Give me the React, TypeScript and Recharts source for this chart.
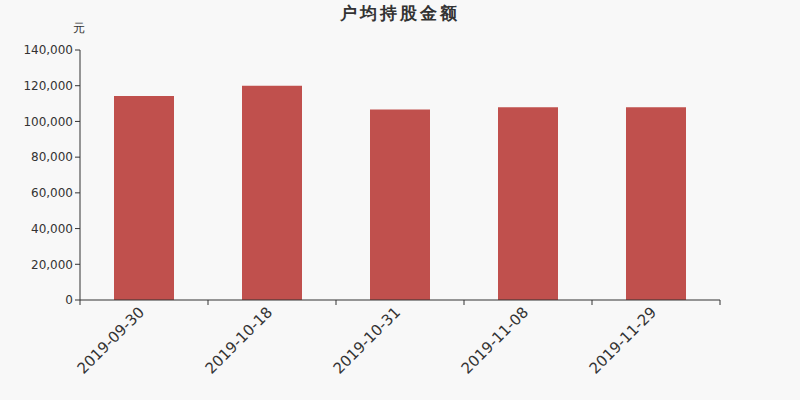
import { Bar, BarChart, XAxis, YAxis } from "recharts";

const dates = ["2019-09-30", "2019-10-18", "2019-10-31", "2019-11-08", "2019-11-29"];
const amounts = [114200, 120000, 106700, 108000, 107900];
const yTicks = [0, 20000, 40000, 60000, 80000, 100000, 120000, 140000];

const data = dates.map((date, i) => ({ date, amount: amounts[i] }));

const font = "'DejaVu Sans', sans-serif";
const axisColor = "#333";

function DateTick(props: any) {
  const { x, y, payload, index, visibleTicksCount } = props;
  const half = 64;
  const ax = x - 2;
  const ay = y + 2;
  return (
    <g>
      <line x1={x - half} y1={y - 8} x2={x - half} y2={y - 3} stroke={axisColor} />
      {index === visibleTicksCount - 1 && (
        <line x1={x + half} y1={y - 8} x2={x + half} y2={y - 3} stroke={axisColor} />
      )}
      <text
        x={ax}
        y={ay}
        textAnchor="end"
        transform={`rotate(-45, ${ax}, ${ay})`}
        fill={axisColor}
        fontSize={15}
        fontFamily={font}
        dominantBaseline="middle"
      >
        {payload.value}
      </text>
    </g>
  );
}

export default function App() {
  return (
    <div style={{ position: "absolute", left: 0, top: 0, width: 800, height: 400, background: "#f8f8f8", fontFamily: font }}>
      <div style={{ position: "absolute", top: 2, width: 800, textAlign: "center", fontSize: 17, letterSpacing: 3, fontWeight: "bold", color: axisColor }}>
        户均持股金额
      </div>
      <div style={{ position: "absolute", top: 20, left: 73, fontSize: 12, color: axisColor }}>元</div>
      <BarChart width={800} height={400} data={data} margin={{ top: 50, right: 80, bottom: 0, left: 10 }}>
        <XAxis
          dataKey="date"
          height={100}
          tick={<DateTick />}
          tickLine={false}
          axisLine={{ stroke: axisColor }}
          interval={0}
        />
        <YAxis
          width={70}
          domain={[0, 140000]}
          ticks={yTicks}
          tickFormatter={(v: number) => v.toLocaleString("en-US")}
          tick={{ fill: axisColor, fontSize: 12, fontFamily: font }}
          tickLine={{ stroke: axisColor }}
          tickSize={5}
          axisLine={{ stroke: axisColor }}
        />
        <Bar dataKey="amount" fill="#c0504d" barSize={60} isAnimationActive={false} />
      </BarChart>
    </div>
  );
}
